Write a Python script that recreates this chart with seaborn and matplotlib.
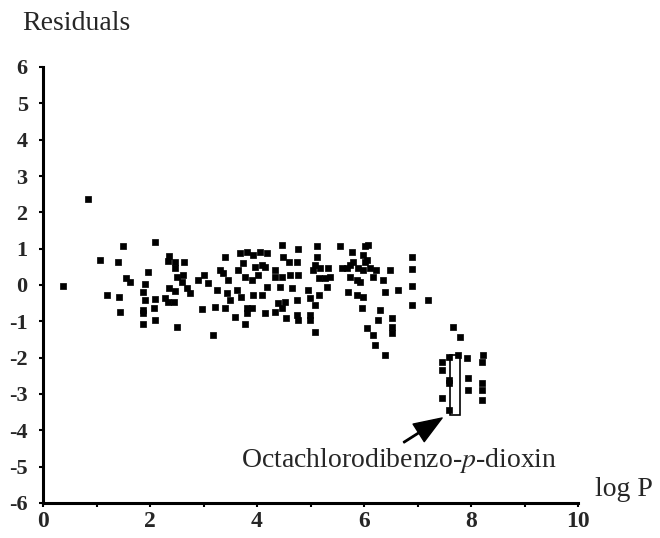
import numpy as np
import pandas as pd
import matplotlib
matplotlib.use("Agg")
import matplotlib.pyplot as plt
import seaborn as sns

# Residuals vs log P
log_p = [
    0.84, 0.37, 1.07, 1.50, 1.41, 2.10, 1.55, 1.63, 1.20, 1.42, 1.44, 1.96, 1.91, 1.86, 1.91,
    1.87, 1.87, 1.86, 2.10, 2.08, 2.10, 2.36, 2.34, 2.47, 2.64, 2.47, 2.50, 2.62, 2.59, 2.28,
    2.36, 2.47, 2.34, 2.45, 2.69, 2.75, 2.51, 2.97, 2.90, 3.00, 3.08,
    3.18, 3.21, 3.26, 3.37, 3.40, 3.31, 3.46, 3.43, 3.50, 3.40, 3.59, 3.62, 3.68, 3.74, 3.65,
    3.81, 3.78, 3.71, 3.81, 3.78, 3.81, 3.93, 3.96, 3.90, 3.93, 3.90, 4.06, 4.09, 4.02, 4.18,
    4.15, 4.18, 4.09, 4.15, 4.34, 4.34, 4.46, 4.49, 4.59, 4.46, 4.62, 4.77, 4.74, 4.77, 4.43,
    4.65, 4.40, 4.46, 4.34, 4.55, 4.52, 4.74, 4.74, 4.77, 4.96, 4.99, 5.08, 4.99, 4.99, 5.08,
    5.15, 5.12, 5.12, 5.08, 5.05, 5.18, 5.33, 5.15, 5.27, 5.36, 5.30, 5.55, 5.58, 5.77, 5.80,
    5.68, 5.74, 5.86, 6.02, 6.05, 5.99, 5.71, 5.86, 5.99, 5.96, 6.05,
    6.08, 5.99, 6.02, 5.74, 5.89, 6.11, 6.23, 6.49, 6.36, 6.17, 5.93, 6.39, 6.64, 6.89, 6.89,
    6.89, 6.89, 7.20, 6.30, 6.27, 6.17, 6.21, 6.39, 6.52, 6.52, 6.52,
    7.67, 7.79, 7.58, 7.45, 7.76, 7.92, 8.23, 8.20, 7.45, 7.58, 7.58, 7.45, 7.58, 7.95, 7.95,
    8.20, 8.20, 8.20,
]
residuals = [
    2.37, -0.02, 0.69, 1.08, 0.63, 1.18, 0.20, 0.07, -0.28, -0.32, -0.74, 0.37, 0.02, -0.18, -0.41,
    -0.69, -0.76, -1.06, -0.39, -0.63, -0.96, 0.80, 0.66, 0.64, 0.63, 0.46, 0.23, 0.28, 0.09, -0.37,
    -0.09, -0.16, -0.46, -0.46, -0.09, -0.23, -1.15, -0.67, 0.14, 0.28, 0.05,
    -1.38, -0.60, -0.14, 0.32, 0.78, 0.41, 0.14, -0.23, -0.41, -0.64, -0.87, -0.14, 0.87, 0.60, 0.41,
    0.92, 0.23, -0.32, -0.64, -1.06, -0.78, 0.83, 0.50, 0.14, -0.28, -0.64, 0.92, 0.55, 0.28, 0.87,
    0.50, -0.05, -0.28, -0.78, 0.41, 0.23, 1.10, 0.78, 0.64, 0.23, 0.28, 1.00, 0.64, 0.28, -0.05,
    -0.09, -0.50, -0.64, -0.74, -0.92, -0.46, -0.41, -0.83, -0.96, -0.14, -0.37, -0.55, -0.83, -0.96, -1.29,
    -0.28, 1.06, 0.78, 0.55, 0.41, 0.46, 0.46, 0.18, 0.18, 0.23, -0.05, 1.06, 0.46, 0.92, 0.64,
    0.46, 0.23, 0.14, 1.06, 0.69, 0.41, -0.18, -0.28, -0.32, -0.64, -1.19,
    1.10, 0.83, 0.64, 0.55, 0.46, 0.46, 0.41, 0.41, 0.14, 0.23, 0.09, -0.18, -0.14, 0.78, 0.43,
    -0.03, -0.55, -0.41, -0.69, -0.96, -1.38, -1.65, -1.93, -0.92, -1.15, -1.33,
    -1.15, -1.42, -1.97, -2.11, -1.93, -2.02, -1.93, -2.11, -2.34, -2.62, -2.71, -3.12, -3.44, -2.57, -2.89,
    -2.71, -2.89, -3.17,
]

# range box drawn around the octachlorodibenzo-p-dioxin values
box_x = [7.7]
box_low = [-3.58]
box_high = [-1.93]

x_ticks = list(range(0, 11))
x_tick_labels = ["0", "", "2", "", "4", "", "6", "", "8", "", "10"]
y_ticks = list(range(-6, 7))

df = pd.DataFrame({"log P": log_p, "Residuals": residuals})

sns.set_style("ticks")
plt.rcParams["font.family"] = ["Liberation Serif", "DejaVu Serif"]
plt.rcParams["mathtext.fontset"] = "stix"

fig = plt.figure(figsize=(6.6, 5.38), dpi=100)
ax = fig.add_axes([43 / 660, 1 - 503 / 538, (578 - 43) / 660, (503 - 67) / 538])

sns.scatterplot(data=df, x="log P", y="Residuals", marker="s", s=22,
                color="black", edgecolor="black", linewidth=0.5, ax=ax, legend=False)

ax.bar(box_x, np.subtract(box_high, box_low), bottom=box_low, width=0.2,
       fill=False, edgecolor="black", linewidth=1.2)

ax.annotate(r"Octachlorodibenzo-$\it{p}$-dioxin", xy=(7.46, -3.66), xytext=(9.6, -4.82),
            ha="right", va="center", fontsize=20,
            arrowprops=dict(facecolor="black", edgecolor="black", width=1.0,
                            headwidth=15, headlength=20, shrink=0.0))

ax.set_xlim(0, 10)
ax.set_ylim(-6, 6)
ax.set_xticks(x_ticks)
ax.set_xticklabels(x_tick_labels, fontsize=17, fontweight="bold")
ax.set_yticks(y_ticks)
ax.set_yticklabels([str(v) for v in y_ticks], fontsize=16, fontweight="bold")
ax.tick_params(axis="both", direction="out", length=3, width=1.5, color="black")
ax.tick_params(axis="x", pad=3)
ax.tick_params(axis="y", pad=8)
ax.set_xlabel("")
ax.set_ylabel("")

for side in ["top", "right"]:
    ax.spines[side].set_visible(False)
for side in ["left", "bottom"]:
    ax.spines[side].set_linewidth(2.2)
    ax.spines[side].set_color("black")

fig.text(22 / 660, 1 - 30 / 538, "Residuals", fontsize=20, va="baseline", ha="left")
fig.text(595 / 660, 1 - 490 / 538, "log P", fontsize=20, va="center", ha="left")

fig.savefig("out.png", dpi=100)
